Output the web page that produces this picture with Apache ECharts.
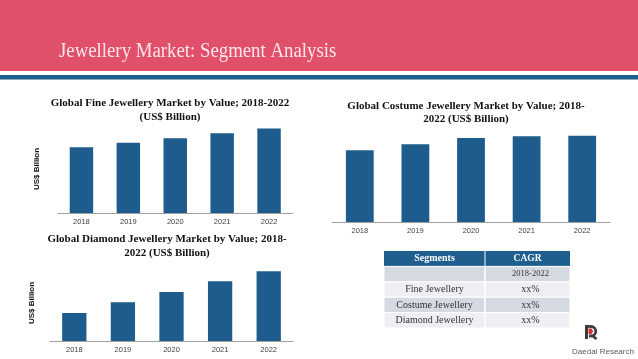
<!DOCTYPE html>
<html><head><meta charset="utf-8">
<script src="https://cdn.jsdelivr.net/npm/echarts@6/dist/echarts.min.js"></script>
<style>html,body{margin:0;padding:0;background:#fff}#c{width:638px;height:359px}</style>
</head><body><div id="c"></div>
<script>
// ---- data (relative bar heights) ----
const years = ['2018', '2019', '2020', '2021', '2022'];
const fineValues = [73, 78, 83, 88.5, 94];
const costumeValues = [78, 84.5, 91.3, 93.2, 93.8];
const diamondValues = [36.4, 50.3, 63.6, 77.5, 90.5];
const tableHeader = ['Segments', 'CAGR'];
const tableRows = [['', '2018-2022'], ['Fine Jewellery', 'xx%'], ['Costume Jewellery', 'xx%'], ['Diamond Jewellery', 'xx%']];

const BLUE = '#1d5c8d';
const PINK = '#e0506b';
const SERIF = '"Liberation Serif", "DejaVu Serif", serif';
const SANS = '"Liberation Sans", Arial, sans-serif';

const chart = echarts.init(document.getElementById('c'), null, {renderer: 'canvas'});

const grids = [
  {left: 58, right: 345.5, top: 123, bottom: 146},
  {left: 332, right: 28, top: 130, bottom: 137},
  {left: 50, right: 345, top: 264, bottom: 18}
];
const datasets = [fineValues, costumeValues, diamondValues];

const xAxes = grids.map((g, i) => ({
  type: 'category', gridIndex: i, data: years,
  axisLine: {lineStyle: {color: '#a0a0a0', width: 1}},
  axisTick: {show: false},
  axisLabel: {fontSize: 7.5, color: '#404040', fontFamily: SANS, margin: 5}
}));
const yAxes = grids.map((g, i) => ({type: 'value', gridIndex: i, min: 0, max: 100, show: false}));
const series = datasets.map((d, i) => ({
  type: 'bar', xAxisIndex: i, yAxisIndex: i, data: d, barWidth: '50%',
  itemStyle: {color: BLUE}, silent: true
}));

const graphic = [];
// header band
graphic.push({type: 'rect', shape: {x: 0, y: 0, width: 638, height: 71}, style: {fill: PINK}, z: 0});
graphic.push({type: 'rect', shape: {x: 0, y: 75, width: 638, height: 4.5}, style: {fill: '#1f5f8f'}, z: 0});
graphic.push({type: 'text', x: 59, y: 52, scaleX: 0.94, style: {text: 'Jewellery Market: Segment Analysis', fill: '#fde6ea', font: '20px ' + SERIF, verticalAlign: 'middle'}});

// chart titles
function title(cx, y, lines) {
  graphic.push({type: 'text', x: cx, y: y, style: {text: lines.join('\n'), fill: '#111', font: 'bold 11px ' + SERIF, align: 'center', verticalAlign: 'top', lineHeight: 13.5}});
}
title(170, 96.5, ['Global Fine Jewellery Market by Value; 2018-2022', '(US$ Billion)']);
title(466, 99, ['Global Costume Jewellery Market by Value; 2018-', '2022 (US$ Billion)']);
title(167, 232.5, ['Global Diamond Jewellery Market by Value; 2018-', '2022 (US$ Billion)']);

// y axis names
function yname(x, y) {
  graphic.push({type: 'text', x: x, y: y, rotation: Math.PI / 2, style: {text: 'US$ Billion', fill: '#111', font: 'bold 8px ' + SANS, align: 'center', verticalAlign: 'middle'}});
}
yname(37, 169);
yname(32, 303);

// table
const tx = 384, tw = 186, colSplit = 485, rowH = 15.4, ty = 251;
graphic.push({type: 'rect', shape: {x: tx, y: ty, width: tw, height: rowH}, style: {fill: '#1f5f8f'}});
graphic.push({type: 'text', x: (tx + colSplit) / 2, y: ty + rowH / 2, style: {text: tableHeader[0], fill: '#fff', font: 'bold 10px ' + SERIF, align: 'center', verticalAlign: 'middle'}});
graphic.push({type: 'text', x: (colSplit + tx + tw) / 2, y: ty + rowH / 2, style: {text: tableHeader[1], fill: '#fff', font: 'bold 9.5px ' + SERIF, align: 'center', verticalAlign: 'middle'}});
tableRows.forEach((r, i) => {
  const y = ty + rowH * (i + 1);
  const fill = (i % 2 === 0) ? '#d5d9e2' : '#eeeff2';
  graphic.push({type: 'rect', shape: {x: tx, y: y, width: colSplit - tx, height: rowH}, style: {fill: fill, stroke: '#fff', lineWidth: 1}});
  graphic.push({type: 'rect', shape: {x: colSplit, y: y, width: tx + tw - colSplit, height: rowH}, style: {fill: fill, stroke: '#fff', lineWidth: 1}});
  graphic.push({type: 'text', x: (tx + colSplit) / 2, y: y + rowH / 2, style: {text: r[0], fill: '#333', font: '10px ' + SERIF, align: 'center', verticalAlign: 'middle'}});
  graphic.push({type: 'text', x: (colSplit + tx + tw) / 2 + 3, y: y + rowH / 2, style: {text: r[1], fill: '#333', font: (i === 0 ? '8.5px ' : '10px ') + SERIF, align: 'center', verticalAlign: 'middle'}});
});
graphic.push({type: 'rect', shape: {x: colSplit - 0.5, y: ty, width: 1, height: rowH * 5}, style: {fill: '#fff'}});

// logo
graphic.push({type: 'rect', shape: {x: 585, y: 325, width: 3, height: 14}, style: {fill: '#3c3c3c'}});
graphic.push({type: 'line', shape: {x1: 586.5, y1: 326.5, x2: 591, y2: 326.5}, style: {stroke: '#3c3c3c', lineWidth: 2.8}});
graphic.push({type: 'arc', shape: {cx: 591, cy: 331.25, r: 4.75, startAngle: -Math.PI / 2, endAngle: Math.PI / 2, clockwise: true}, style: {fill: null, stroke: '#3c3c3c', lineWidth: 2.8}});
graphic.push({type: 'line', shape: {x1: 589, y1: 336, x2: 591, y2: 336}, style: {stroke: '#3c3c3c', lineWidth: 2.8}});
graphic.push({type: 'line', shape: {x1: 592, y1: 335.5, x2: 596.5, y2: 339}, style: {stroke: '#3c3c3c', lineWidth: 2.8}});
graphic.push({type: 'polygon', shape: {points: [[588.5, 328.5], [591.5, 328.5], [593.2, 331.2], [591.5, 334], [588.5, 334]]}, style: {fill: '#d62b38'}});
graphic.push({type: 'text', x: 603, y: 351.5, style: {text: 'Daedal Research', fill: '#5a5a5a', font: '8px ' + SANS, align: 'center', verticalAlign: 'middle'}});

chart.setOption({
  animation: false,
  backgroundColor: '#fff',
  grid: grids,
  xAxis: xAxes,
  yAxis: yAxes,
  series: series,
  graphic: graphic
});
</script></body></html>
